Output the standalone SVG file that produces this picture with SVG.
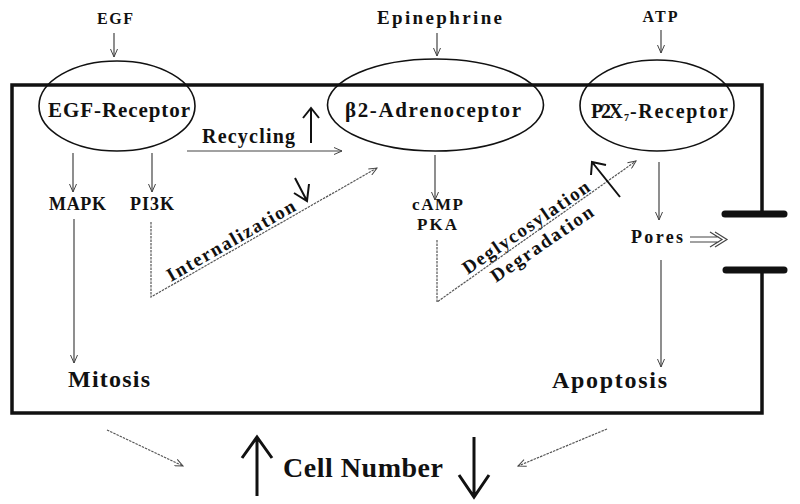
<svg xmlns="http://www.w3.org/2000/svg" width="800" height="504" viewBox="0 0 800 504">
<defs>
<marker id="ah" markerWidth="10" markerHeight="8" refX="9" refY="4" orient="auto" markerUnits="userSpaceOnUse">
<path d="M1,0.5 L9,4 L1,7.5" fill="none" stroke="#444" stroke-width="1"/>
</marker>
</defs>
<style>
text{font-family:"Liberation Serif","Times New Roman",serif;font-weight:bold;fill:#111}
.thin{stroke:#444;stroke-width:1.2;fill:none}
.dot{stroke:#555;stroke-width:1.2;fill:none;stroke-dasharray:2.5 1}
.bold{stroke:#111;stroke-width:2;fill:none}
.big{stroke:#111;stroke-width:3;fill:none}
.ell{stroke:#111;stroke-width:1.6;fill:none}
.cell{stroke:#111;stroke-width:3.5;fill:none}
.chan{stroke:#111;stroke-width:7;stroke-linecap:round}
</style>
<rect width="800" height="504" fill="#fff"/>
<g id="cell">
<path class="cell" d="M762,214 V85 H12 V413 H762 V270"/>
<line class="chan" x1="725" y1="214" x2="784" y2="214"/>
<line class="chan" x1="726" y1="270" x2="784" y2="270"/>
</g>
<g id="egf"><text x="115" y="24" font-size="16" text-anchor="middle" textLength="36">EGF</text></g>
<g id="epinephrine"><text x="439.5" y="24" font-size="19" text-anchor="middle" textLength="125">Epinephrine</text></g>
<g id="atp"><text x="660" y="22" font-size="16" text-anchor="middle" textLength="35">ATP</text></g>
<g id="egf-receptor">
<ellipse class="ell" cx="117" cy="106" rx="78" ry="45"/>
<text x="48" y="117" font-size="21" textLength="142">EGF-Receptor</text>
</g>
<g id="b2-adrenoceptor">
<ellipse class="ell" cx="435.5" cy="105" rx="108" ry="46"/>
<text x="345" y="117" font-size="21" textLength="176">β2-Adrenoceptor</text>
</g>
<g id="p2x7-receptor">
<ellipse class="ell" cx="657" cy="105.5" rx="77" ry="45.5"/>
<text y="118" font-size="20"><tspan x="591" textLength="32">P2X</tspan><tspan x="624" y="121" font-size="10">7</tspan><tspan x="630" y="118" textLength="98">-Receptor</tspan></text>
</g>
<g id="mapk"><text x="49" y="210" font-size="18" textLength="57">MAPK</text></g>
<g id="pi3k"><text x="130" y="210" font-size="18" textLength="44">PI3K</text></g>
<g id="camp-pka">
<text x="437.5" y="210" font-size="17" text-anchor="middle" textLength="51">cAMP</text>
<text x="437" y="230" font-size="17" text-anchor="middle" textLength="40">PKA</text>
</g>
<g id="pores"><text x="631" y="243" font-size="18" textLength="52">Pores</text></g>
<g id="mitosis"><text x="68" y="387" font-size="24" textLength="82">Mitosis</text></g>
<g id="apoptosis"><text x="552" y="388" font-size="24" textLength="115">Apoptosis</text></g>
<g id="cell-number"><text x="283" y="477" font-size="28" textLength="160">Cell Number</text></g>
<g id="labels">
<text x="202" y="143" font-size="20" textLength="93">Recycling</text>
<text transform="translate(234,246) rotate(-29.7)" font-size="19" text-anchor="middle" textLength="145">Internalization</text>
<text transform="translate(529.5,232.5) rotate(-34.5)" font-size="19" text-anchor="middle" textLength="150">Deglycosylation</text>
<text transform="translate(545.5,249) rotate(-34.5)" font-size="19" text-anchor="middle" textLength="120">Degradation</text>
</g>
<g id="connectors">
<line class="thin" x1="114" y1="33" x2="114" y2="57" marker-end="url(#ah)"/>
<line class="thin" x1="437" y1="33" x2="437" y2="56" marker-end="url(#ah)"/>
<line class="thin" x1="661" y1="30" x2="661" y2="53" marker-end="url(#ah)"/>
<line class="thin" x1="73" y1="153" x2="73" y2="192" marker-end="url(#ah)"/>
<line class="thin" x1="152" y1="153" x2="152" y2="192" marker-end="url(#ah)"/>
<line class="thin" x1="74" y1="219" x2="74" y2="363" marker-end="url(#ah)"/>
<line class="thin" x1="187" y1="151" x2="342" y2="151" marker-end="url(#ah)"/>
<polyline class="dot" points="151,222 151,297 377,168" marker-end="url(#ah)"/>
<line class="thin" x1="435" y1="155" x2="435" y2="200" marker-end="url(#ah)"/>
<polyline class="dot" points="437,240 437,302 636,161" marker-end="url(#ah)"/>
<line class="thin" x1="659" y1="162" x2="659" y2="220" marker-end="url(#ah)"/>
<line class="thin" x1="661" y1="260" x2="661" y2="367" marker-end="url(#ah)"/>
<line class="dot" x1="107" y1="430" x2="183" y2="466" marker-end="url(#ah)"/>
<line class="dot" x1="607" y1="429" x2="518" y2="466" marker-end="url(#ah)"/>
<path class="bold" d="M311,143 V108 M303,118 L311,108 L319,118"/>
<path class="bold" d="M295,178 L307,201 M294,193 L307,201 L309,184"/>
<path class="bold" d="M620,197 L592,162 M591,175 L592,162 L606,165"/>
<path class="thin" stroke="#111" d="M690,237 H719 M690,242 H719 M710,232 L722,239.5 L710,247 M715,232 L727,239.5 L715,247"/>
<path class="big" d="M257,496 V437 M242,458 L257,437 L272,458"/>
<path class="big" d="M474,437 V497 M459,475 L474,497 L489,475"/>
</g>
</svg>
